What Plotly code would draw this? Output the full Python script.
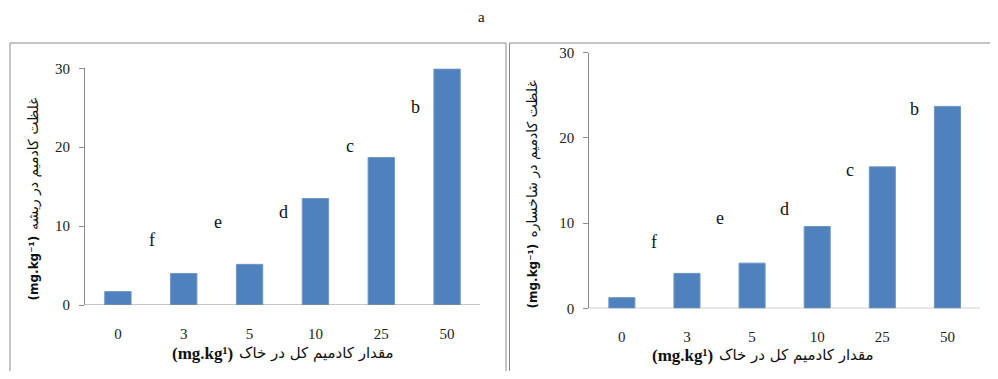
import plotly.graph_objects as go

# figure sized so that it fits the 998x379 window together with the 8px page margin
W, H = 982, 363
OFF = 8

categories = ["0", "3", "5", "10", "25", "50"]
root_cd = [1.7, 4.0, 5.15, 13.5, 18.7, 29.9]
shoot_cd = [1.25, 4.1, 5.3, 9.6, 16.6, 23.7]

root_letters = ["f", "e", "d", "c", "b"]
root_letter_y = [8.2, 10.5, 11.8, 20.1, 25.1]
shoot_letters = ["f", "e", "d", "c", "b", "a"]
shoot_letter_y = [7.8, 10.6, 11.7, 16.2, 23.4, 30.4]

y_ticks = [0, 10, 20, 30]

x_unit = "(mg.kg¹)"
x_title_fa = "مقدار کادمیم کل در خاک"
y_unit = "(mg.kg⁻¹)"
y_title_left_fa = "غلظت کادمیم در ریشه"
y_title_right_fa = "غلظت کادمیم در شاخساره"

BAR = "#4F81BD"
AX = "#8C8C8C"
SERIF = "Liberation Serif, DejaVu Sans"
FA = "DejaVu Sans"


def px(x):
    return (x - OFF) / W


def py(y):
    return (H - (y - OFF)) / H


xs = list(range(len(categories)))

fig = go.Figure()
fig.add_trace(go.Bar(x=xs, y=root_cd, width=0.4, marker=dict(color=BAR, line=dict(color="#6E96C8", width=1)),
                     xaxis="x", yaxis="y", showlegend=False))
fig.add_trace(go.Bar(x=xs, y=shoot_cd, width=0.4, marker=dict(color=BAR, line=dict(color="#6E96C8", width=1)),
                     xaxis="x2", yaxis="y2", showlegend=False))

common_x = dict(range=[-0.5, 5.5], tickvals=xs, ticktext=categories, showgrid=False, zeroline=False,
                showline=False, ticks="", tickfont=dict(family=SERIF, size=15, color="#222"),
                ticklabelstandoff=18, fixedrange=True)
common_y = dict(range=[0, 30], tickvals=y_ticks, showgrid=False, zeroline=False, showline=True,
                linecolor=AX, linewidth=1, ticks="outside", ticklen=5, tickcolor=AX,
                tickfont=dict(family=SERIF, size=15, color="#222"), ticklabelstandoff=6)

fig.update_layout(
    width=W, height=H, margin=dict(l=0, r=0, t=0, b=0, autoexpand=False),
    paper_bgcolor="white", plot_bgcolor="white",
    xaxis=dict(domain=[px(85), px(480)], anchor="y", **common_x),
    yaxis=dict(domain=[py(305), py(68.3)], anchor="x", **common_y),
    xaxis2=dict(domain=[px(589.3), px(980)], anchor="y2", **common_x),
    yaxis2=dict(domain=[py(308.3), py(52.7)], anchor="x2", **common_y),
    bargap=0.6,
)

shapes = [
    dict(type="rect", xref="paper", yref="paper", x0=px(10), x1=px(506), y0=-0.2, y1=py(43),
         line=dict(color="#8A8A8A", width=1)),
    dict(type="rect", xref="paper", yref="paper", x0=px(509.5), x1=1.05, y0=-0.2, y1=py(43),
         line=dict(color="#8A8A8A", width=1)),
    dict(type="line", xref="x domain", yref="y", x0=0, x1=1, y0=0, y1=0, line=dict(color=AX, width=1)),
    dict(type="line", xref="x2 domain", yref="y2", x0=0, x1=1, y0=0, y1=0, line=dict(color=AX, width=1)),
]
fig.update_layout(shapes=shapes)

ann = []
for i, (t, yv) in enumerate(zip(root_letters, root_letter_y)):
    ann.append(dict(x=i + 0.52, y=yv, xref="x", yref="y", text=t, showarrow=False,
                    xanchor="center", yanchor="middle",
                    font=dict(family=SERIF, size=18, color="#111")))
for i, (t, yv) in enumerate(zip(shoot_letters, shoot_letter_y)):
    ann.append(dict(x=i + 0.5, y=yv, xref="x2", yref="y2", text=t, showarrow=False,
                    xanchor="center", yanchor="middle",
                    font=dict(family=SERIF, size=18, color="#111")))
ann.append(dict(x=px(481), y=1, xref="paper", yref="paper", text="a", showarrow=False,
                xanchor="center", yanchor="top", borderpad=0,
                font=dict(family=SERIF, size=15, color="#111")))

# x-axis titles: Latin unit on the left, Persian text to its right
for unit_right, fa_left, yc in [(234, 238, 353), (714, 718, 355)]:
    ann.append(dict(x=px(unit_right), y=py(yc), xref="paper", yref="paper", text="<b>" + x_unit + "</b>",
                    showarrow=False, xanchor="right", yanchor="middle", borderpad=0,
                    font=dict(family="Liberation Serif", size=17, color="#111")))
    ann.append(dict(x=px(fa_left), y=py(yc), xref="paper", yref="paper", text=x_title_fa,
                    showarrow=False, xanchor="left", yanchor="middle", borderpad=0,
                    font=dict(family=FA, size=15, color="#111")))

# y-axis titles (rotated): unit at the bottom, Persian text above it
for xc, unit_top, fa_bottom, txt in [(33, 235, 231, y_title_left_fa), (532, 243, 239, y_title_right_fa)]:
    ann.append(dict(x=px(xc), y=py(unit_top), xref="paper", yref="paper", text="<b>" + y_unit + "</b>",
                    showarrow=False, xanchor="center", yanchor="top", textangle=-90, borderpad=0,
                    font=dict(family="DejaVu Sans", size=12, color="#111")))
    ann.append(dict(x=px(xc), y=py(fa_bottom), xref="paper", yref="paper", text=txt,
                    showarrow=False, xanchor="center", yanchor="bottom", textangle=-90, borderpad=0,
                    font=dict(family=FA, size=14, color="#111")))

fig.update_layout(annotations=ann)

fig.write_html("out.html")
